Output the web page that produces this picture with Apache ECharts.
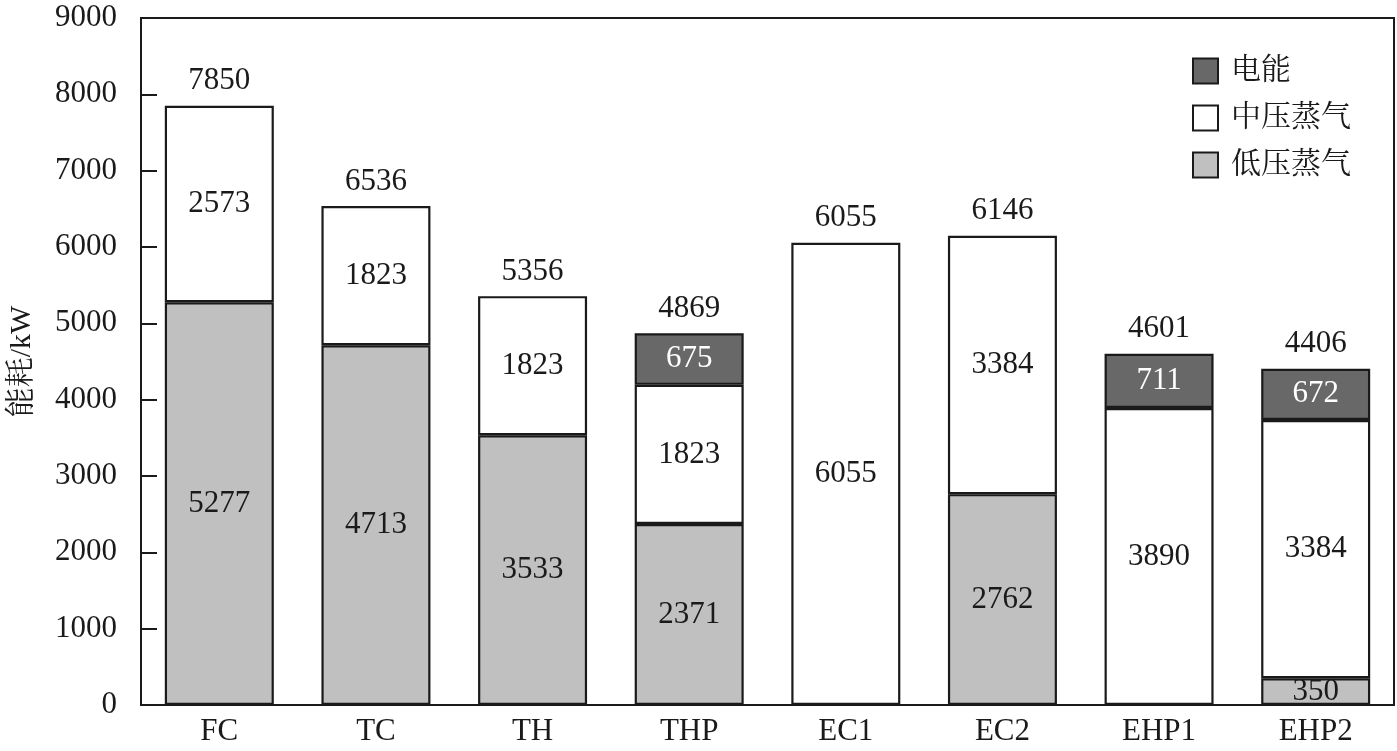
<!DOCTYPE html>
<html>
<head>
<meta charset="utf-8">
<script src="https://cdn.jsdelivr.net/npm/echarts@6/dist/echarts.min.js"></script>
<style>html,body{margin:0;padding:0;background:#fff}#c{width:1397px;height:751px}</style>
</head>
<body>
<div id="c"></div>
<script>
const categories = ['FC','TC','TH','THP','EC1','EC2','EHP1','EHP2'];
const lowSteam = [5277, 4713, 3533, 2371, null, 2762, null, 350];
const midSteam = [2573, 1823, 1823, 1823, 6055, 3384, 3890, 3384];
const electric = [null, null, null, 675, null, null, 711, 672];
const totals = [7850, 6536, 5356, 4869, 6055, 6146, 4601, 4406];
const yTicks = [0, 1000, 2000, 3000, 4000, 5000, 6000, 7000, 8000, 9000];

const FONT = "'Liberation Serif', 'Noto Serif CJK SC', 'Noto Sans CJK SC', serif";
const FS = 31;
const chart = echarts.init(document.getElementById('c'), null, {renderer: 'canvas'});
const baseItem = {borderColor: '#1a1a1a', borderWidth: 2.2};
const inLabel = (color) => ({show: true, position: 'inside', color: color, fontFamily: FONT, fontSize: FS});
chart.setOption({
  animation: false,
  backgroundColor: '#fff',
  grid: {left: 141, right: 3, top: 18, bottom: 46, show: true, borderColor: '#1a1a1a', borderWidth: 2,
         backgroundColor: 'transparent', containLabel: false, outerBoundsMode: 'none'},
  legend: {
    data: ['电能', '中压蒸气', '低压蒸气'],
    orient: 'vertical', left: 1187, top: 51, itemWidth: 25, itemHeight: 25, itemGap: 17,
    icon: 'rect',
    textStyle: {fontFamily: FONT, fontSize: 30, color: '#1a1a1a', padding: [0, 0, 0, 8]}
  },
  xAxis: {
    type: 'category', data: categories,
    axisLine: {lineStyle: {color: '#1a1a1a', width: 2}},
    axisTick: {show: false},
    axisLabel: {color: '#1a1a1a', fontFamily: FONT, fontSize: FS, margin: 11}
  },
  yAxis: {
    type: 'value', min: yTicks[0], max: yTicks[yTicks.length - 1], interval: 1000,
    name: '能耗/kW', nameLocation: 'middle', nameGap: 104,
    nameTextStyle: {fontFamily: FONT, fontSize: 30, color: '#1a1a1a'},
    axisLine: {show: true, lineStyle: {color: '#1a1a1a', width: 2}},
    axisTick: {show: true, inside: true, length: 16, lineStyle: {color: '#1a1a1a', width: 2}},
    splitLine: {show: false},
    axisLabel: {color: '#1a1a1a', fontFamily: FONT, fontSize: FS, margin: 24, formatter: (v) => String(v)}
  },
  series: [
    {name: '低压蒸气', type: 'bar', stack: 'a', barWidth: 109, data: lowSteam,
     itemStyle: Object.assign({color: '#c0c0c0'}, baseItem), label: inLabel('#1a1a1a')},
    {name: '中压蒸气', type: 'bar', stack: 'a', barWidth: 109, data: midSteam,
     itemStyle: Object.assign({color: '#ffffff'}, baseItem), label: inLabel('#1a1a1a')},
    {name: '电能', type: 'bar', stack: 'a', barWidth: 109, data: electric,
     itemStyle: Object.assign({color: '#686868'}, baseItem), label: inLabel('#ffffff')},
    {name: 'total', type: 'bar', stack: 'a', barWidth: 109, data: totals.map(() => 0),
     itemStyle: {color: 'transparent', borderWidth: 0},
     label: {show: true, position: 'top', distance: 9, color: '#1a1a1a', fontFamily: FONT, fontSize: FS,
       formatter: (p) => String(totals[p.dataIndex])}}
  ]
});
</script>
</body>
</html>
